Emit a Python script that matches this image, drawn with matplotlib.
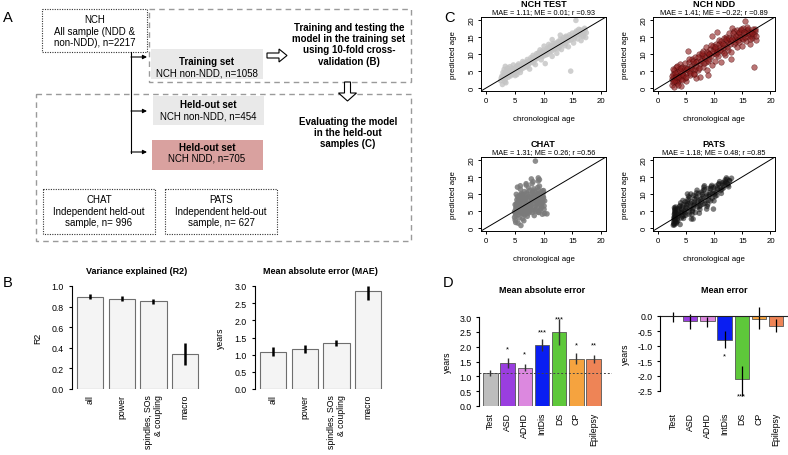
import matplotlib
matplotlib.use('Agg')
import matplotlib.pyplot as plt
from matplotlib.patches import Rectangle, FancyArrow
from matplotlib.ticker import FormatStrFormatter

plt.rcParams['font.family'] = ['Liberation Sans', 'DejaVu Sans']

# ---- panel B data ----
b_groups = ['all', 'power', 'spindles, SOs\n& coupling', 'macro']
b_r2 = [0.89, 0.875, 0.85, 0.34]
b_r2_lo = [0.87, 0.855, 0.83, 0.23]
b_r2_hi = [0.92, 0.90, 0.87, 0.45]
b_mae = [1.09, 1.16, 1.34, 2.85]
b_mae_lo = [0.97, 1.04, 1.24, 2.60]
b_mae_hi = [1.21, 1.28, 1.43, 2.99]

# ---- panel D data ----
d_groups = ['Test', 'ASD', 'ADHD', 'IntDis', 'DS', 'CP', 'Epilepsy']
d_colors = ['#bdbdbd', '#9a3ee0', '#dc88df', '#0a1ef2', '#5ec83a', '#f5a33f', '#ee8456']
d_mae = [1.10, 1.46, 1.29, 2.06, 2.50, 1.59, 1.57]
d_mae_lo = [1.00, 1.28, 1.18, 1.85, 2.07, 1.40, 1.45]
d_mae_hi = [1.22, 1.63, 1.40, 2.27, 2.93, 1.80, 1.72]
d_mae_sig = ['', '*', '*', '***', '***', '*', '**']
d_mae_sig_y = [0, 1.92, 1.76, 2.50, 2.95, 2.05, 2.05]
d_me = [-0.005, -0.17, -0.17, -0.79, -2.10, -0.10, -0.32]
d_me_lo = [-0.21, -0.43, -0.36, -1.07, -2.66, -0.43, -0.52]
d_me_hi = [0.14, 0.07, -0.02, -0.49, -1.65, 0.30, -0.10]
d_me_sig = ['', '', '', '*', '***', '', '']
d_me_sig_y = [0, 0, 0, -1.32, -2.66, 0, 0]

# ---- panel C data (chronological age, predicted age) ----
test_x = [2.6, 2.8, 3.0, 3.1, 3.2, 3.3, 3.5, 3.6, 3.8, 3.9, 4.0, 4.2, 4.3, 4.5, 4.7, 4.8,
          5.0, 5.1, 5.3, 5.5, 5.7, 5.9, 6.0, 6.2, 6.4, 6.5, 6.8, 7.0, 7.2, 7.4, 7.6, 7.8,
          8.0, 8.2, 8.4, 8.6, 8.8, 9.0, 9.2, 9.4, 9.6, 9.8, 10.0, 10.1, 10.3, 10.5, 10.7,
          10.9, 11.1, 11.3, 11.5, 11.7, 11.9, 12.1, 12.3, 12.5, 12.7, 12.9, 13.1, 13.3,
          13.5, 13.7, 13.9, 14.1, 14.3, 14.5, 14.7, 14.8, 15.0, 15.2, 15.4, 15.6, 15.7,
          15.9, 16.1, 16.3, 16.5, 16.7, 16.9, 17.1, 17.3, 17.4, 2.9, 3.4, 4.1, 5.6, 6.6,
          9.1, 11.0, 12.6, 14.0, 16.0,
          3.0, 3.2, 3.4, 3.6, 3.7, 3.9, 4.1, 4.4, 4.6, 4.9, 5.2, 5.4, 5.6, 5.8, 6.1, 6.3,
          6.6, 6.9, 7.1, 7.3, 7.5, 7.7, 7.9, 8.1, 8.3, 8.5, 8.7, 8.9, 9.1, 9.3, 9.5, 9.7,
          9.9, 10.2, 10.4, 10.6, 10.8, 11.0, 11.2, 11.4, 11.6, 11.8, 12.0, 12.2, 12.4,
          12.6, 12.8, 13.0, 13.2, 13.4, 13.6, 13.8, 14.2, 14.4, 14.6, 15.1, 15.3, 15.5,
          15.8, 16.2, 16.4, 16.6, 16.8, 17.0, 17.2, 3.3, 2.7, 5.4, 11.5, 12.9]
test_y = [2.2, 3.5, 4.6, 2.8, 5.5, 3.9, 1.6, 4.4, 5.9, 3.2, 4.8, 6.3, 3.6, 5.2, 4.1, 6.8,
          5.6, 3.7, 6.2, 4.9, 7.1, 5.8, 4.6, 6.9, 7.8, 5.9, 7.3, 6.2, 8.4, 7.0, 5.6, 8.9,
          7.7, 9.6, 8.2, 6.9, 10.1, 8.8, 9.9, 11.2, 8.3, 10.6, 9.4, 12.3, 7.2, 11.0, 9.9,
          12.8, 10.6, 11.8, 9.3, 13.1, 11.4, 12.5, 10.2, 13.6, 12.0, 14.3, 11.3, 13.0,
          14.8, 12.4, 15.2, 13.7, 12.1, 15.6, 5.0, 14.2, 16.1, 13.2, 15.0, 19.8, 16.7,
          14.4, 17.2, 15.6, 13.9, 16.9, 15.1, 17.5, 14.8, 16.2, 1.1, 6.4, 5.0, 6.6, 7.4,
          10.3, 11.9, 13.2, 14.9, 16.4,
          3.4, 4.1, 2.6, 5.1, 3.7, 4.9, 3.9, 4.6, 5.8, 4.4, 5.2, 6.4, 5.3, 6.1, 5.4, 6.6,
          7.1, 6.6, 7.7, 6.5, 8.0, 7.4, 8.3, 8.6, 7.4, 9.2, 8.5, 9.4, 9.1, 10.4, 9.6, 9.2,
          11.1, 10.6, 9.7, 11.6, 10.9, 11.4, 12.3, 10.8, 12.0, 12.6, 11.6, 13.2, 12.4,
          11.6, 13.4, 12.7, 14.0, 13.5, 14.2, 13.1, 14.6, 13.9, 14.9, 15.4, 14.5, 16.2,
          15.7, 16.1, 17.0, 15.3, 16.4, 16.0, 17.0, 1.9, 3.0, 4.0, 14.2, 15.5]

ndd_x = [2.5, 2.6, 2.7, 2.8, 2.9, 3.0, 3.0, 3.1, 3.2, 3.3, 3.4, 3.5, 3.6, 3.7, 3.8, 3.9,
         4.0, 4.1, 4.3, 4.4, 4.6, 4.7, 4.9, 5.0, 5.1, 5.2, 5.4, 5.5, 5.6, 5.8, 5.9, 6.1,
         6.2, 6.4, 6.5, 6.7, 6.8, 7.0, 7.1, 7.3, 7.5, 7.6, 7.8, 8.0, 8.1, 8.3, 8.5, 8.6,
         8.8, 9.0, 9.1, 9.3, 9.5, 9.6, 9.7, 9.9, 10.0, 10.2, 10.4, 10.5, 10.7, 10.9, 11.0,
         11.2, 11.4, 11.5, 11.7, 11.9, 12.0, 12.2, 12.4, 12.5, 12.7, 12.9, 13.0, 13.1,
         13.3, 13.5, 13.6, 13.8, 14.0, 14.1, 14.3, 14.5, 14.7, 14.9, 15.0, 15.2, 15.4,
         15.6, 15.8, 16.0, 16.1, 16.3, 16.5, 16.7, 16.9, 17.0, 17.1, 17.3, 17.4, 6.9, 4.2,
         3.2, 4.8, 7.9, 10.1, 12.3, 14.4, 16.6, 11.6, 9.2,
         2.6, 2.8, 3.0, 3.1, 3.3, 3.5, 3.6, 3.8, 4.0, 4.2, 4.4, 4.5, 4.8, 5.0, 5.3, 5.5,
         5.7, 6.0, 6.3, 6.6, 6.9, 7.2, 7.4, 7.7, 7.9, 8.2, 8.4, 8.7, 8.9, 9.2, 9.4, 9.8,
         10.1, 10.3, 10.6, 10.8, 11.1, 11.3, 11.6, 11.8, 12.1, 12.3, 12.6, 12.8, 13.2,
         13.4, 13.7, 13.9, 14.2, 14.4, 14.6, 14.8, 15.1, 15.3, 15.5, 15.7, 15.9, 16.2,
         16.4, 16.8, 17.2, 17.4, 10.5, 6.5, 13.0, 15.5, 9.0]
ndd_y = [1.0, 2.8, 4.3, 1.9, 3.4, 5.2, 0.5, 2.4, 3.9, 6.1, 1.4, 4.8, 3.0, 2.1, 5.6, 4.0,
         7.0, 2.7, 4.5, 6.3, 3.6, 5.3, 7.4, 4.4, 2.2, 6.0, 10.9, 5.1, 7.8, 3.8, 6.6, 8.5,
         5.2, 7.3, 4.1, 9.2, 6.4, 8.1, 5.4, 10.0, 7.2, 3.2, 8.8, 6.3, 10.9, 9.4, 7.6, 12.0,
         5.3, 10.2, 8.4, 11.6, 9.3, 6.9, 15.2, 12.4, 10.3, 8.1, 13.0, 11.2, 9.4, 14.0, 12.1,
         7.6, 13.3, 10.8, 14.7, 12.6, 9.7, 15.1, 13.4, 11.3, 16.2, 14.1, 10.5, 17.7,
         15.0, 12.8, 16.6, 14.3, 11.9, 17.1, 15.5, 13.4, 16.9, 14.6, 12.2, 17.6, 15.9,
         13.7, 17.0, 15.2, 17.4, 12.9, 16.3, 14.8, 17.3, 6.2, 15.8, 16.7, 14.1, 2.9, 0.8,
         2.0, 3.1, 9.6, 11.6, 14.2, 16.0, 15.4, 11.8, 9.9,
         3.6, 5.6, 2.0, 4.6, 3.2, 6.5, 1.0, 3.3, 4.9, 5.9, 2.3, 4.0, 6.0, 3.4, 5.5, 8.6,
         4.6, 6.0, 7.9, 5.6, 7.6, 9.0, 6.0, 8.0, 10.2, 7.5, 8.8, 10.5, 7.9, 9.9, 12.5, 11.0,
         12.0, 9.9, 10.5, 12.9, 11.1, 13.9, 12.9, 10.4, 14.3, 12.0, 14.8, 12.9, 14.4,
         16.0, 13.6, 15.3, 14.0, 16.3, 15.1, 17.4, 14.5, 16.5, 14.9, 16.1, 17.9, 16.0,
         14.4, 16.2, 17.2, 15.2, 16.5, 4.1, 8.6, 19.5, 3.9]

chat_x = [5.0, 5.1, 5.2, 5.3, 5.4, 5.1, 5.3, 5.5, 5.6, 5.8, 5.9, 6.0, 6.1, 6.2, 6.3, 5.7,
          6.4, 6.0, 6.2, 6.6, 6.7, 6.8, 6.9, 7.0, 7.1, 7.2, 6.7, 7.3, 7.4, 7.0, 7.6, 7.7,
          7.8, 7.9, 8.0, 8.1, 8.2, 7.8, 8.3, 8.4, 8.0, 8.6, 8.7, 8.8, 8.9, 9.0, 9.1, 9.2,
          8.8, 9.3, 9.1, 9.6, 9.7, 9.8, 9.9, 10.0, 10.1, 9.8, 10.2, 10.0, 8.6, 7.9, 9.1,
          5.5, 10.6, 9.1, 6.1, 5.2, 6.5, 7.5, 8.5, 9.5, 5.8, 6.8, 7.2, 8.2, 9.4, 6.3, 7.7,
          8.9, 5.4, 9.9,
          5.0, 5.1, 5.2, 5.3, 5.4, 5.5, 5.6, 5.7, 5.8, 5.9, 6.0, 6.1, 6.2, 6.3, 6.4, 6.5,
          6.6, 6.7, 6.8, 6.9, 7.0, 7.1, 7.2, 7.3, 7.4, 7.5, 7.6, 7.7, 7.8, 7.9, 8.0, 8.1,
          8.2, 8.3, 8.4, 8.5, 8.6, 8.7, 8.8, 8.9, 9.0, 9.1, 9.2, 9.3, 9.4, 9.5, 9.6, 9.7,
          9.8, 9.9, 10.0, 10.1, 10.2, 6.0, 7.0, 8.2, 9.3, 5.6, 6.6, 9.8]
chat_y = [3.2, 4.5, 5.8, 7.1, 8.3, 2.4, 6.4, 9.2, 3.9, 5.1, 6.2, 7.5, 8.8, 10.1, 4.4, 6.9,
          2.8, 11.4, 9.5, 4.2, 5.6, 6.7, 7.9, 9.0, 10.3, 3.5, 8.4, 6.1, 11.8, 12.6, 4.8,
          6.0, 7.2, 8.3, 9.5, 10.6, 5.3, 7.7, 11.5, 3.7, 13.0, 5.4, 6.6, 7.8, 8.9, 10.0,
          11.2, 4.6, 9.4, 12.3, 14.7, 5.9, 7.1, 8.2, 9.3, 10.4, 6.5, 8.8, 4.3, 11.0, 19.6,
          14.4, 4.7, 12.0, 4.2, 13.8, 0.8, 1.7, 5.2, 7.0, 8.1, 9.6, 7.4, 6.3, 4.9, 10.9,
          7.6, 9.7, 6.0, 7.3, 5.0, 8.6,
          4.9, 6.9, 3.8, 9.9, 5.6, 7.6, 4.7, 8.5, 3.0, 9.7, 5.4, 7.1, 4.3, 8.5, 9.9, 5.9,
          7.9, 10.7, 3.9, 6.8, 8.7, 5.1, 9.8, 7.4, 4.4, 9.1, 11.0, 5.6, 8.9, 6.8, 10.1,
          4.6, 7.9, 9.0, 6.2, 10.8, 8.2, 5.0, 9.8, 7.1, 11.9, 6.1, 8.5, 10.3, 5.3, 7.9, 9.7,
          6.4, 10.9, 7.7, 9.0, 5.5, 8.0, 12.4, 13.0, 13.6, 14.2, 1.5, 2.2, 4.1]

pats_x = [2.8, 2.9, 2.9, 3.0, 3.0, 3.0, 3.1, 3.1, 3.1, 3.2, 2.9, 3.0, 3.2, 3.1, 3.4, 3.5,
          3.6, 3.7, 3.8, 3.9, 4.0, 4.1, 4.2, 4.3, 4.4, 4.5, 4.6, 4.7, 4.8, 4.9, 5.0, 5.1,
          5.3, 5.4, 5.5, 5.6, 5.7, 5.8, 5.9, 6.0, 6.1, 6.2, 6.3, 6.4, 6.5, 6.6, 6.8, 6.9,
          7.0, 7.1, 7.2, 7.4, 7.5, 7.6, 7.7, 7.8, 7.9, 8.1, 8.2, 8.3, 8.4, 8.6, 8.7, 8.9,
          9.0, 9.1, 9.3, 9.4, 9.6, 9.7, 9.9, 10.0, 10.2, 10.4, 10.6, 10.8, 11.0, 11.2,
          11.4, 11.6, 11.8, 12.0, 12.2, 12.4, 12.6, 12.8, 13.1, 5.3, 6.3, 9.9, 4.0, 3.3,
          2.9, 3.0, 3.1, 3.2, 3.0, 3.1, 3.3, 3.5, 3.6, 3.8, 3.9, 4.1, 4.3, 4.4, 4.6, 4.7,
          4.9, 5.0, 5.2, 5.4, 5.6, 5.7, 5.9, 6.1, 6.2, 6.4, 6.6, 6.7, 6.9, 7.1, 7.3, 7.4,
          7.6, 7.8, 8.0, 8.1, 8.3, 8.5, 8.7, 8.8, 9.0, 9.2, 9.4, 9.5, 9.7, 9.9, 10.1, 10.3,
          10.5, 10.7, 10.9, 11.1, 11.3, 11.5, 11.7, 11.9, 12.1, 12.3, 12.5, 12.7, 3.0, 3.2]
pats_y = [0.9, 1.5, 2.1, 2.7, 3.3, 3.9, 4.5, 5.1, 5.7, 6.2, 1.2, 2.4, 3.6, 4.8, 1.8, 2.6,
          3.4, 4.2, 5.0, 5.8, 6.6, 7.4, 3.0, 4.6, 6.2, 8.1, 2.9, 3.7, 4.5, 5.3, 6.1, 6.9,
          7.7, 8.5, 9.3, 4.1, 5.7, 7.3, 10.0, 2.7, 4.0, 4.9, 5.8, 6.7, 7.6, 8.5, 9.4, 10.3,
          11.1, 6.2, 8.0, 4.4, 5.5, 6.6, 7.7, 8.8, 9.9, 11.0, 12.0, 12.4, 7.2, 9.4, 5.6,
          7.0, 8.2, 9.3, 10.4, 11.5, 12.5, 8.8, 10.9, 8.0, 9.3, 10.5, 11.7, 12.8, 13.6,
          11.0, 11.4, 12.6, 13.5, 14.1, 14.7, 13.0, 12.1, 13.9, 14.6, 10.0, 2.7, 5.6, 1.1,
          1.4,
          3.0, 4.2, 5.4, 1.8, 1.0, 3.0, 4.4, 5.6, 2.2, 3.8, 6.3, 4.5, 5.4, 3.4, 6.8, 4.9,
          7.7, 3.8, 5.9, 7.2, 4.8, 8.9, 6.4, 7.8, 5.3, 9.6, 6.9, 4.6, 8.9, 7.4, 10.2, 6.3,
          8.5, 10.5, 7.0, 9.2, 11.3, 8.1, 10.0, 6.4, 11.6, 9.8, 8.0, 12.1, 10.2, 11.9, 10.0,
          12.3, 9.6, 11.3, 13.0, 12.0, 10.2, 13.2, 11.8, 12.9, 13.4, 14.3, 12.6, 13.8, 6.0,
          2.4]

scatter_panels = [
    ('NCH TEST', 'MAE = 1.11; ME = 0.01; r =0.93', test_x, test_y),
    ('NCH NDD', 'MAE = 1.41; ME = \u22120.22; r =0.89', ndd_x, ndd_y),
    ('CHAT', 'MAE = 1.31; ME = 0.26; r =0.56', chat_x, chat_y),
    ('PATS', 'MAE = 1.18; ME = 0.48; r =0.85', pats_x, pats_y),
]

W, H = 788, 456


def rect(l, t, r, b):
    return [l / W, 1 - b / H, (r - l) / W, (b - t) / H]


fig = plt.figure(figsize=(W / 100, H / 100), dpi=100)

# overlay in pixel coordinates for diagram and panel labels
ov = fig.add_axes([0, 0, 1, 1])
ov.set_xlim(0, W)
ov.set_ylim(H, 0)
ov.axis('off')

for letter, (lx, ly) in zip('ABCD', [(8, 18), (8, 283), (450, 18), (448, 283)]):
    ov.text(lx, ly, letter, fontsize=10.5, ha='center', va='center')

# ---- panel A diagram ----
dash_kw = dict(fill=False, ec='#9a9a9a', lw=1.0, ls=(0, (4, 3)))
ov.add_patch(Rectangle((149, 10), 262, 73, **dash_kw))
ov.add_patch(Rectangle((36, 95), 375, 147, **dash_kw))
dot_kw = dict(fill=False, ec='#333333', lw=0.8, ls=(0, (1, 1.2)))
ov.add_patch(Rectangle((42, 10), 105, 43, **dot_kw))
ov.add_patch(Rectangle((43, 190), 112, 45, **dot_kw))
ov.add_patch(Rectangle((165, 190), 112, 45, **dot_kw))
ov.add_patch(Rectangle((151, 50), 112, 30, fc='#e9e9e9', ec='none'))
ov.add_patch(Rectangle((153, 97), 111, 29, fc='#e9e9e9', ec='none'))
ov.add_patch(Rectangle((152, 141), 111, 30, fc='#d9a19f', ec='none'))

ov.plot([131, 131], [53, 154], color='black', lw=0.8)
for ay in [58, 112, 153]:
    ov.annotate('', xy=(147, ay), xytext=(131, ay),
                arrowprops=dict(arrowstyle='-|>', color='black', lw=0.8,
                                mutation_scale=6, shrinkA=0, shrinkB=0))

ov.add_patch(FancyArrow(267, 56.5, 20, 0, width=5, head_width=13, head_length=8,
                        length_includes_head=True, fc='white', ec='black', lw=0.8))
ov.add_patch(FancyArrow(347.5, 83, 0, 19, width=6, head_width=18, head_length=8,
                        length_includes_head=True, fc='white', ec='black', lw=0.8))

tk = dict(ha='center', va='center', fontsize=7)
for s, y in zip(['NCH', 'All sample (NDD &', 'non-NDD), n=2217'], [20, 32, 43]):
    ov.text(95, y, s, **tk)
ov.text(207, 62, 'Training set', fontweight='bold', **tk)
ov.text(207, 73, 'NCH non-NDD, n=1058', **tk)
ov.text(208, 105, 'Held-out set', fontweight='bold', **tk)
ov.text(208, 117, 'NCH non-NDD, n=454', **tk)
ov.text(207, 148, 'Held-out set', fontweight='bold', **tk)
ov.text(207, 159, 'NCH NDD, n=705', **tk)
for s, y in zip(['CHAT', 'Independent held-out', 'sample, n= 996'], [200, 212, 223]):
    ov.text(99, y, s, **tk)
for s, y in zip(['PATS', 'Independent held-out', 'sample, n= 627'], [200, 212, 223]):
    ov.text(221, y, s, **tk)
for s, y in zip(['Training and testing the', 'model in the training set',
                 'using 10-fold cross-', 'validation (B)'], [28, 39, 50, 62]):
    ov.text(349, y, s, fontweight='bold', **tk)
for s, y in zip(['Evaluating the model', 'in the held-out', 'samples (C)'], [122, 133, 144]):
    ov.text(348, y, s, fontweight='bold', **tk)


def r_style(ax, fs=6.3):
    for sp in ['top', 'right', 'bottom']:
        ax.spines[sp].set_visible(False)
    ax.spines['left'].set_linewidth(0.8)
    ax.tick_params(axis='y', length=2.5, width=0.8, labelsize=fs, pad=3)
    ax.tick_params(axis='x', length=0, labelsize=fs)
    ax.yaxis.set_major_formatter(FormatStrFormatter('%.1f'))


# ---- panel B ----
b_pos = [0.7 + 1.2 * i for i in range(len(b_groups))]
for (l, r), vals, lo, hi, ylim, ticks, ylab, title, tx in [
        ((71.5, 201), b_r2, b_r2_lo, b_r2_hi, 1.0, [0, 0.2, 0.4, 0.6, 0.8, 1.0], 'R2',
         'Variance explained (R2)', 137),
        ((254.5, 384), b_mae, b_mae_lo, b_mae_hi, 3.0, [0, 0.5, 1, 1.5, 2, 2.5, 3], 'years',
         'Mean absolute error (MAE)', 320)]:
    ax = fig.add_axes(rect(l, 287, r, 390))
    ax.bar(b_pos, vals, width=1.0, color='#f4f4f4', edgecolor='#6e6e6e', lw=0.8)
    ax.vlines(b_pos, lo, hi, color='black', lw=1.8, clip_on=False)
    ax.set_xlim(0, 4.9)
    ax.set_ylim(0, ylim)
    ax.set_yticks(ticks)
    r_style(ax)
    ax.set_xticks(b_pos)
    ax.set_xticklabels(b_groups, rotation=90, va='top', ha='center', multialignment='right')
    ax.tick_params(axis='x', pad=3.5)
    ax.set_ylabel(ylab, fontsize=6.3, labelpad=7)
    ov.text(tx, 272, title, fontsize=6.5, fontweight='bold', ha='center', va='center')

# ---- panel C ----
c_boxes = [(481, 18, 606, 92), (653, 18, 775, 92), (481, 158, 606, 232), (653, 158, 775, 232)]
c_style = [dict(c='#c4c4c4', alpha=0.8, edgecolors='none'),
           dict(c='#8c1a1a', alpha=0.6, edgecolors='#4a0808', linewidths=0.4),
           dict(c='#7a7a7a', alpha=0.85, edgecolors='none'),
           dict(c='#111111', alpha=0.55, edgecolors='none')]
for (name, sub, xs, ys), (l, t, r, b), st in zip(scatter_panels, c_boxes, c_style):
    ax = fig.add_axes(rect(l, t, r, b))
    ax.scatter(xs, ys, s=16, zorder=2, **st)
    ax.plot([-0.8, 20.8], [-0.8, 20.8], color='black', lw=0.7, zorder=3)
    ax.set_xlim(-0.8, 20.8)
    ax.set_ylim(-0.8, 20.8)
    ax.set_xticks([0, 5, 10, 15, 20])
    ax.set_yticks([0, 5, 10, 15, 20])
    for sp in ax.spines.values():
        sp.set_linewidth(0.7)
    ax.tick_params(length=2.5, width=0.7, labelsize=5.6, pad=1.5)
    ax.tick_params(axis='y', labelrotation=90)
    plt.setp(ax.get_yticklabels(), va='center')
    ax.set_xlabel('chronological age', fontsize=5.7, labelpad=8)
    ax.set_ylabel('predicted age', fontsize=5.7, labelpad=8)
    cx = (l + r) / 2
    ov.text(cx, t - 13.5, name, fontsize=6.6, fontweight='bold', ha='center', va='center')
    ov.text(cx, t - 5, sub, fontsize=5.3, ha='center', va='center')

# ---- panel D ----
d_pos = [0.7 + 1.2 * i for i in range(len(d_groups))]
axl = fig.add_axes(rect(479, 318, 612, 407))
axl.bar(d_pos, d_mae, width=1.0, color=d_colors, edgecolor='#555555', lw=0.6)
axl.vlines(d_pos, d_mae_lo, d_mae_hi, color='#333333', lw=1.0, clip_on=False)
axl.axhline(1.1, color='#444444', lw=0.7, ls=(0, (2, 2)))
for x, s, y in zip(d_pos, d_mae_sig, d_mae_sig_y):
    if s:
        axl.text(x, y, s, fontsize=5.5, ha='center', va='center')
axl.set_xlim(-0.1, 9.18)
axl.set_ylim(0, 3.0)
axl.set_yticks([0, 0.5, 1, 1.5, 2, 2.5, 3])
r_style(axl)
axl.set_xticks(d_pos)
axl.set_xticklabels(d_groups, rotation=90, va='top', ha='center')
axl.tick_params(axis='x', pad=4.3)
axl.set_ylabel('years', fontsize=6.3, labelpad=5)
ov.text(542, 291, 'Mean absolute error', fontsize=6.5, fontweight='bold', ha='center', va='center')

axr = fig.add_axes(rect(660, 317, 788, 392))
axr.bar(d_pos, d_me, width=1.0, color=d_colors, edgecolor='#555555', lw=0.6)
axr.vlines(d_pos, d_me_lo, d_me_hi, color='black', lw=0.9, clip_on=False)
axr.axhline(0, color='#222222', lw=0.8, clip_on=False)
for x, s, y in zip(d_pos, d_me_sig, d_me_sig_y):
    if s:
        axr.text(x, y, s, fontsize=5.5, ha='center', va='center')
axr.set_xlim(-0.21, 8.72)
axr.set_ylim(-2.5, 0)
axr.set_yticks([0, -0.5, -1, -1.5, -2, -2.5])
r_style(axr)
axr.set_xticks(d_pos)
axr.set_xticklabels(d_groups, rotation=90, va='top', ha='center')
axr.tick_params(axis='x', pad=15)
axr.set_ylabel('years', fontsize=6.3, labelpad=5)
ov.text(724, 291, 'Mean error', fontsize=6.5, fontweight='bold', ha='center', va='center')

fig.savefig('out.png', dpi=100)
